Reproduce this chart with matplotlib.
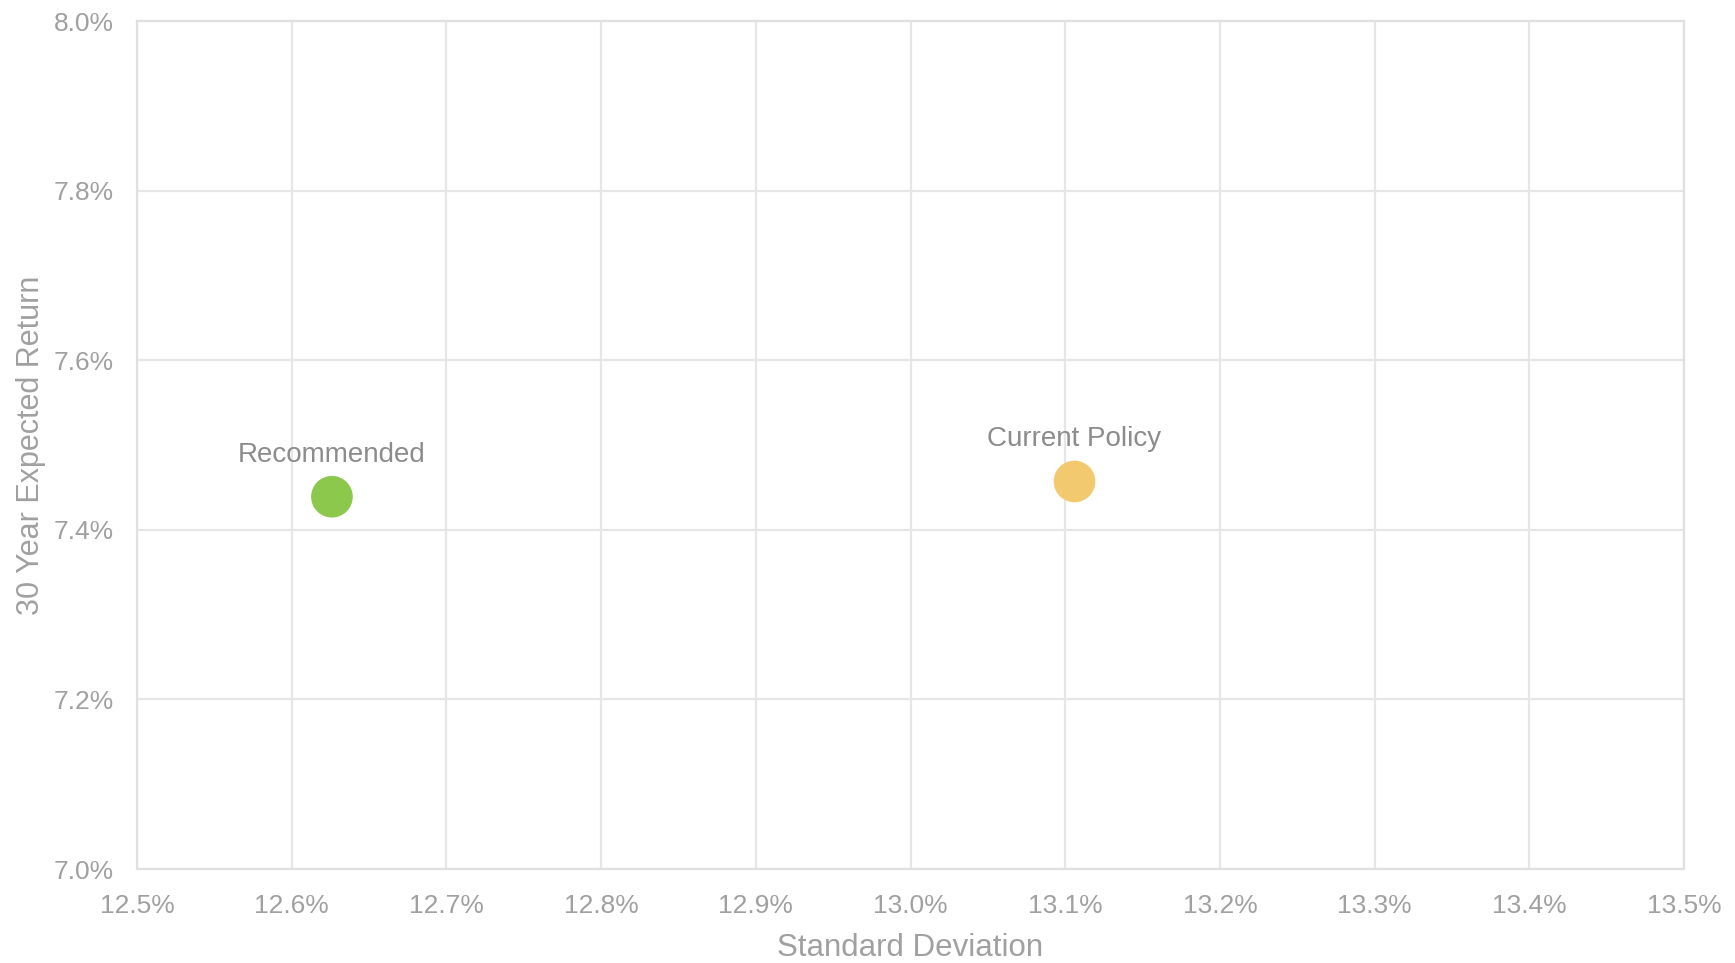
import matplotlib
matplotlib.use("Agg")
import matplotlib.pyplot as plt
from matplotlib.ticker import FuncFormatter

plt.rcParams['font.family'] = ['Liberation Sans', 'DejaVu Sans']

# Portfolio risk / return
names = ["Recommended", "Current Policy"]
std_dev = [12.626, 13.106]
exp_return = [7.439, 7.457]
colors = ["#8cc84b", "#f2c96f"]

x_ticks = [12.5, 12.6, 12.7, 12.8, 12.9, 13.0, 13.1, 13.2, 13.3, 13.4, 13.5]
y_ticks = [7.0, 7.2, 7.4, 7.6, 7.8, 8.0]

fig = plt.figure(figsize=(17.35, 9.63), dpi=100)
ax = fig.add_axes([137 / 1735, 1 - 869 / 963, (1684 - 137) / 1735, (869 - 21) / 963])

ax.set_xlim(x_ticks[0], x_ticks[-1])
ax.set_ylim(y_ticks[0], y_ticks[-1])
ax.set_xticks(x_ticks)
ax.set_yticks(y_ticks)
ax.xaxis.set_major_formatter(FuncFormatter(lambda v, _: f"{v:.1f}%"))
ax.yaxis.set_major_formatter(FuncFormatter(lambda v, _: f"{v:.1f}%"))

ax.grid(True, color="#e6e6e6", linewidth=1.6)
ax.set_axisbelow(True)
for s in ax.spines.values():
    s.set_color("#e0e0e0")
    s.set_linewidth(1.6)

ax.tick_params(axis="both", length=0, labelsize=19, labelcolor="#a0a0a0")
ax.tick_params(axis="x", pad=18)
ax.tick_params(axis="y", pad=17)

ax.scatter(std_dev, exp_return, s=900, c=colors, zorder=3, linewidths=0)
for n, xv, yv in zip(names, std_dev, exp_return):
    ax.annotate(n, (xv, yv), xytext=(0, 42), textcoords="offset pixels",
                ha="center", va="center", fontsize=20, color="#8c8c8c")

ax.set_xlabel("Standard Deviation", fontsize=22.5, color="#a0a0a0", labelpad=11)
ax.set_ylabel("30 Year Expected Return", fontsize=22, color="#a0a0a0", labelpad=5)

fig.savefig("out.png", dpi=100, facecolor="white")
